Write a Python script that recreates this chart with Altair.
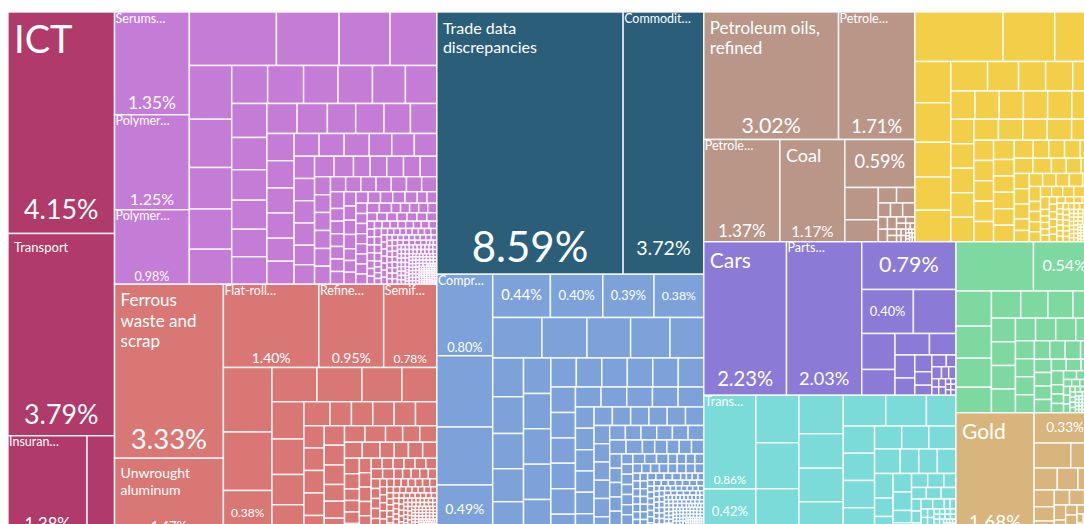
import altair as alt
import pandas as pd

# ---------------- data (shares of total exports, %) ----------------
GROUPS = ["Services", "Chemical Products", "Metals", "Unknown", "Machines",
          "Mineral Products", "Vegetable Products", "Transportation",
          "Instruments", "Foodstuffs", "Precious Metals"]
COLORS = ["#B03A6A", "#C57CD7", "#D97775", "#2A5E79", "#7CA2D9",
          "#BA9689", "#F3CE48", "#8B7AD6", "#7BDBD9", "#7ED9A1", "#D9B57E"]

# largest products of every group (read from the tiles)
SERVICES = [4.15, 3.79, 1.38, 0.48]
CHEMICALS = [1.35, 1.25, 0.98, 0.82, 0.59, 0.48, 0.44, 0.40, 0.36, 0.31, 0.30,
             0.26, 0.24, 0.24, 0.23, 0.23, 0.22]
METALS = [3.33, 1.47, 1.40, 0.95, 0.78, 0.55, 0.50, 0.38, 0.27, 0.27, 0.24,
          0.21, 0.21, 0.20, 0.17, 0.17, 0.11]
UNKNOWN = [8.59, 3.72]
MACHINES = [0.80, 0.70, 0.57, 0.49, 0.44, 0.40, 0.39, 0.38, 0.35, 0.32, 0.31,
            0.28, 0.24, 0.21, 0.20, 0.19, 0.18, 0.18]
MINERALS = [3.02, 1.71, 1.37, 1.17, 0.59, 0.19, 0.13]
VEGETABLE = [0.77, 0.45, 0.36, 0.26, 0.25, 0.22, 0.21, 0.20, 0.19, 0.16, 0.14,
             0.14, 0.12]
TRANSPORT = [2.23, 2.03, 0.79, 0.40, 0.33, 0.21, 0.15, 0.13, 0.10]
INSTRUMENTS = [0.86, 0.42, 0.36, 0.35, 0.35, 0.30, 0.27, 0.26, 0.26, 0.23,
               0.22, 0.16]
FOODSTUFFS = [0.67, 0.54, 0.22, 0.20, 0.18, 0.16, 0.14, 0.13, 0.12, 0.11]
PRECIOUS = [1.68, 0.33, 0.16, 0.11]

# small products: (approximate share, number of tiles of about that share)
TAIL_SERVICES = []
TAIL_CHEMICALS = [(0.21, 2), (0.20, 1), (0.19, 1), (0.18, 1), (0.17, 2), (0.16, 2),
                  (0.15, 2), (0.14, 2), (0.13, 2), (0.12, 2), (0.11, 2), (0.10, 3),
                  (0.09, 3), (0.08, 4), (0.07, 4), (0.06, 5), (0.05, 6), (0.04, 8),
                  (0.03, 10), (0.025, 8), (0.02, 12), (0.015, 12), (0.01, 20),
                  (0.007, 20), (0.005, 30), (0.003, 40), (0.002, 50), (0.001, 60)]
TAIL_METALS = [(0.09, 5), (0.08, 4), (0.07, 4), (0.06, 5), (0.05, 5), (0.04, 6),
               (0.03, 8), (0.02, 10), (0.015, 10), (0.01, 15), (0.007, 15),
               (0.005, 20), (0.003, 30), (0.002, 40), (0.001, 50)]
TAIL_UNKNOWN = []
TAIL_MACHINES = [(0.17, 5), (0.13, 6), (0.11, 5), (0.09, 6), (0.07, 6), (0.06, 6),
                 (0.05, 6), (0.04, 8), (0.03, 10), (0.02, 12), (0.015, 12),
                 (0.01, 20), (0.007, 20), (0.005, 30), (0.003, 40), (0.002, 50),
                 (0.001, 60)]
TAIL_MINERALS = [(0.05, 2), (0.03, 3), (0.02, 3), (0.01, 5), (0.005, 6), (0.002, 10)]
TAIL_VEGETABLE = [(0.12, 6), (0.10, 5), (0.09, 5), (0.07, 6), (0.06, 6), (0.05, 6),
                  (0.04, 6), (0.03, 8), (0.02, 10), (0.01, 15), (0.006, 20),
                  (0.003, 30), (0.0015, 40)]
TAIL_TRANSPORT = [(0.08, 1), (0.06, 1), (0.05, 1), (0.04, 1), (0.03, 2), (0.02, 2),
                  (0.015, 2), (0.01, 4), (0.005, 6)]
TAIL_INSTRUMENTS = [(0.15, 4), (0.11, 4), (0.08, 4), (0.06, 4), (0.04, 4), (0.03, 4),
                    (0.02, 5), (0.01, 8), (0.005, 12), (0.002, 20)]
TAIL_FOODSTUFFS = [(0.10, 4), (0.08, 4), (0.06, 4), (0.05, 4), (0.04, 4), (0.03, 4),
                   (0.02, 5), (0.01, 8), (0.005, 12), (0.002, 30)]
TAIL_PRECIOUS = [(0.09, 1), (0.08, 1), (0.07, 1), (0.06, 1), (0.05, 2), (0.04, 2),
                 (0.03, 3), (0.02, 3), (0.015, 2), (0.01, 4), (0.005, 6)]

# labels of the largest tiles ("" = share only, None = no label)
NAMES = {
    "Services": ["ICT", "Transport", "Insuran…", None],
    "Chemical Products": ["Serums…", "Polymer…", "Polymer…"],
    "Metals": ["Ferrous waste and scrap", "Unwrought aluminum", "Flat-roll…",
               "Refine…", "Semif…", None, None, ""],
    "Unknown": ["Trade data discrepancies", "Commodit…"],
    "Machines": ["Compr…", None, None, "", "", "", "", ""],
    "Mineral Products": ["Petroleum oils, refined", "Petrole…", "Petrole…", "Coal", ""],
    "Vegetable Products": [],
    "Transportation": ["Cars", "Parts…", "", ""],
    "Instruments": ["Trans…", ""],
    "Foodstuffs": [None, ""],
    "Precious Metals": ["Gold", ""],
}

HEADS = dict(zip(GROUPS, [SERVICES, CHEMICALS, METALS, UNKNOWN, MACHINES, MINERALS,
                          VEGETABLE, TRANSPORT, INSTRUMENTS, FOODSTUFFS, PRECIOUS]))
TAILS = dict(zip(GROUPS, [TAIL_SERVICES, TAIL_CHEMICALS, TAIL_METALS, TAIL_UNKNOWN,
                          TAIL_MACHINES, TAIL_MINERALS, TAIL_VEGETABLE, TAIL_TRANSPORT,
                          TAIL_INSTRUMENTS, TAIL_FOODSTUFFS, TAIL_PRECIOUS]))

# arrangement of the sections (rows / columns of the top level)
ARRANGEMENT = ["Services", ["Chemical Products", "Metals"], ["Unknown", "Machines"],
               [["Mineral Products", "Vegetable Products"],
                [["Transportation", "Instruments"], ["Foodstuffs", "Precious Metals"]]]]

# ---------------- styling ----------------
NAME_FONT = {"ICT": 38, "Transport": 13, "Ferrous waste and scrap": 17,
             "Unwrought aluminum": 14, "Trade data discrepancies": 16,
             "Petroleum oils, refined": 17, "Coal": 18, "Cars": 21, "Gold": 21}
TRUNC_FONT = 12.5
FONT = "Lato"
TREE_W, TREE_H = 1088, 523        # full treemap (partly outside the window)
VIEW_W, VIEW_H = 1076, 512        # visible plot area

# ---------------- treemap layout ----------------
group_values = {g: sorted(HEADS[g] + [v for v, n in TAILS[g] for _ in range(n)],
                          reverse=True) for g in GROUPS}


def total(node):
    if isinstance(node, str):
        return sum(group_values[node])
    return sum(total(c) for c in node)


def place(node, x0, y0, x1, y1, out):
    if isinstance(node, str):
        out[node] = (x0, y0, x1, y1)
        return
    tot = total(node)
    if (x1 - x0) >= (y1 - y0):
        x = x0
        for c in node:
            w = (x1 - x0) * total(c) / tot
            place(c, x, y0, x + w, y1, out)
            x += w
    else:
        y = y0
        for c in node:
            h = (y1 - y0) * total(c) / tot
            place(c, x0, y, x1, y + h, out)
            y += h


def squarify(values, x0, y0, x1, y1):
    rects = [None] * len(values)
    n = len(values)
    i0 = i1 = 0
    value = sum(values)
    while i0 < n:
        dx, dy = x1 - x0, y1 - y0
        sumv = values[i1]
        i1 += 1
        minv = maxv = sumv
        alpha = max(dy / dx, dx / dy) / value
        beta = sumv * sumv * alpha
        minratio = max(maxv / beta, beta / minv)
        while i1 < n:
            nv = values[i1]
            s2 = sumv + nv
            mn, mx = min(minv, nv), max(maxv, nv)
            beta = s2 * s2 * alpha
            nr = max(mx / beta, beta / mn)
            if nr > minratio:
                break
            sumv, minv, maxv, minratio = s2, mn, mx, nr
            i1 += 1
        row = range(i0, i1)
        if dx < dy:
            yb = y0 + dy * sumv / value
            xx = x0
            for i in row:
                w = dx * values[i] / sumv
                rects[i] = (xx, y0, xx + w, yb)
                xx += w
            y0 = yb
        else:
            xb = x0 + dx * sumv / value
            yy = y0
            for i in row:
                h = dy * values[i] / sumv
                rects[i] = (x0, yy, xb, yy + h)
                yy += h
            x0 = xb
        value -= sumv
        i0 = i1
    return rects


def wrap(text, fs, avail):
    if text.endswith("…"):
        return [text]
    lines, cur = [], ""
    for word in text.split(" "):
        cand = (cur + " " + word).strip()
        if cur and len(cand) * 0.48 * fs > avail:
            lines.append(cur)
            cur = word
        else:
            cur = cand
    lines.append(cur)
    return lines


boxes = {}
place(ARRANGEMENT, 0, 0, TREE_W, TREE_H, boxes)

tiles, names, shares = [], [], []
for g in GROUPS:
    vals = group_values[g]
    rects = squarify(vals, *boxes[g])
    for v, (a, b, c, d) in zip(vals, rects):
        tiles.append({"group": g, "value": v, "x": a, "y": b, "x2": c, "y2": d})
    for i, nm in enumerate(NAMES[g]):
        if nm is None:
            continue
        a, b, c, d = rects[i]
        w, h = c - a, d - b
        v = vals[i]
        txt = f"{v:.2f}%"
        if nm == "":
            fs = min(0.45 * h, (w - 8) / 3.4, 22)
            shares.append({"t": txt, "x": (a + c) / 2, "y": (b + d) / 2, "fs": fs})
            continue
        sh = min(50, 0.2 * h)
        fs = min(0.84 * sh, (w - 10) / 3.6, 42)
        shares.append({"t": txt, "x": (a + c) / 2, "y": d - sh / 2, "fs": fs})
        if nm.endswith("…"):
            names.append({"t": nm, "x": a + 1, "y": b + 0.5, "fs": TRUNC_FONT})
        else:
            nfs = NAME_FONT.get(nm, 14)
            for k, line in enumerate(wrap(nm, nfs, w - 12)):
                names.append({"t": line, "x": a + 6,
                              "y": b + 7 + 0.1 * nfs + k * 1.22 * nfs, "fs": nfs})

df_tiles = pd.DataFrame(tiles)
df_names = pd.DataFrame(names)
df_shares = pd.DataFrame(shares)

xs = alt.Scale(domain=[0, VIEW_W], nice=False, zero=False)
ys = alt.Scale(domain=[0, VIEW_H], nice=False, zero=False, reverse=True)

rects_layer = alt.Chart(df_tiles).mark_rect(
    stroke="white", strokeWidth=1.5, strokeOpacity=0.85, clip=True
).encode(
    x=alt.X("x:Q", scale=xs, axis=None),
    x2="x2:Q",
    y=alt.Y("y:Q", scale=ys, axis=None),
    y2="y2:Q",
    color=alt.Color("group:N", scale=alt.Scale(domain=GROUPS, range=COLORS), legend=None),
)

names_layer = alt.Chart(df_names).mark_text(
    align="left", baseline="top", color="white", font=FONT, clip=True
).encode(
    x=alt.X("x:Q", scale=xs, axis=None),
    y=alt.Y("y:Q", scale=ys, axis=None),
    text="t:N",
    size=alt.Size("fs:Q", scale=None, legend=None),
)

shares_layer = alt.Chart(df_shares).mark_text(
    align="center", baseline="middle", color="white", font=FONT, clip=True
).encode(
    x=alt.X("x:Q", scale=xs, axis=None),
    y=alt.Y("y:Q", scale=ys, axis=None),
    text="t:N",
    size=alt.Size("fs:Q", scale=None, legend=None),
)

chart = alt.layer(rects_layer, names_layer, shares_layer).properties(
    width=VIEW_W, height=VIEW_H,
    padding={"left": 8, "top": 12, "right": 0, "bottom": 0},
    background="white",
).configure_view(stroke=None)

chart.save("out.html", embed_options={"renderer": "svg", "actions": False})
